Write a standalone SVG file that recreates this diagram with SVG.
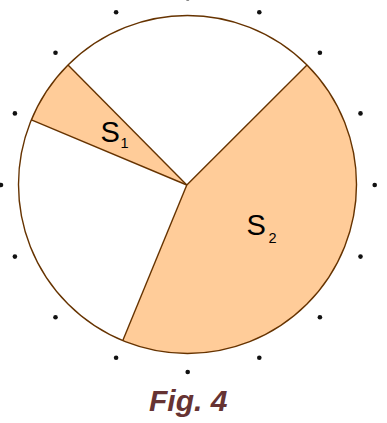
<svg xmlns="http://www.w3.org/2000/svg" width="387" height="423" viewBox="0 0 387 423">
<style>
.sec{fill:#FFCC99;stroke:none}
.ln{stroke:#663300;stroke-width:1.4;fill:none}
.dot{fill:#111}
.lbl{font-family:"Liberation Sans",Arial,sans-serif;fill:#000}
.fig{font-family:"Liberation Sans",Arial,sans-serif;font-weight:bold;font-style:italic;font-size:30px;fill:#663333}
</style>
<rect width="387" height="423" fill="#fff"/>
<g id="sector-s1">
<path class="sec" d="M186.8,185 L68,65 A169,169 0 0 0 31.4,119.8 Z"/>
</g>
<g id="sector-s2">
<path class="sec" d="M186.8,185 L307,65 A169,169 0 0 1 122.8,340.6 Z"/>
</g>
<g id="circle">
<circle class="ln" cx="187.5" cy="184.5" r="169"/>
</g>
<g id="connectors">
<line class="ln" x1="186.8" y1="185" x2="68" y2="65"/>
<line class="ln" x1="186.8" y1="185" x2="31.4" y2="119.8"/>
<line class="ln" x1="186.8" y1="185" x2="307" y2="65"/>
<line class="ln" x1="186.8" y1="185" x2="122.8" y2="340.6"/>
</g>
<g id="dots">
<circle class="dot" cx="374.7" cy="185" r="2.3"/>
<circle class="dot" cx="360.5" cy="113.4" r="2.3"/>
<circle class="dot" cx="319.9" cy="52.8" r="2.3"/>
<circle class="dot" cx="259.3" cy="12.2" r="2.3"/>
<circle class="dot" cx="187.7" cy="-1.8" r="2.3"/>
<circle class="dot" cx="116.1" cy="12.2" r="2.3"/>
<circle class="dot" cx="55.5" cy="52.8" r="2.3"/>
<circle class="dot" cx="14.9" cy="113.4" r="2.3"/>
<circle class="dot" cx="1" cy="185" r="2.3"/>
<circle class="dot" cx="14.9" cy="256.6" r="2.3"/>
<circle class="dot" cx="55.5" cy="317.2" r="2.3"/>
<circle class="dot" cx="116.1" cy="357.8" r="2.3"/>
<circle class="dot" cx="187.7" cy="372" r="2.3"/>
<circle class="dot" cx="259.3" cy="357.8" r="2.3"/>
<circle class="dot" cx="319.9" cy="317.2" r="2.3"/>
<circle class="dot" cx="360.5" cy="256.6" r="2.3"/>
</g>
<g id="label-s1">
<text class="lbl" x="100.5" y="141.5" font-size="29">S</text>
<text class="lbl" x="120.5" y="148.3" font-size="14.5">1</text>
</g>
<g id="label-s2">
<text class="lbl" x="246.5" y="234.5" font-size="29">S</text>
<text class="lbl" x="268.5" y="242.7" font-size="14.5">2</text>
</g>
<g id="caption">
<text class="fig" x="149" y="410.5">Fig. 4</text>
</g>
</svg>
